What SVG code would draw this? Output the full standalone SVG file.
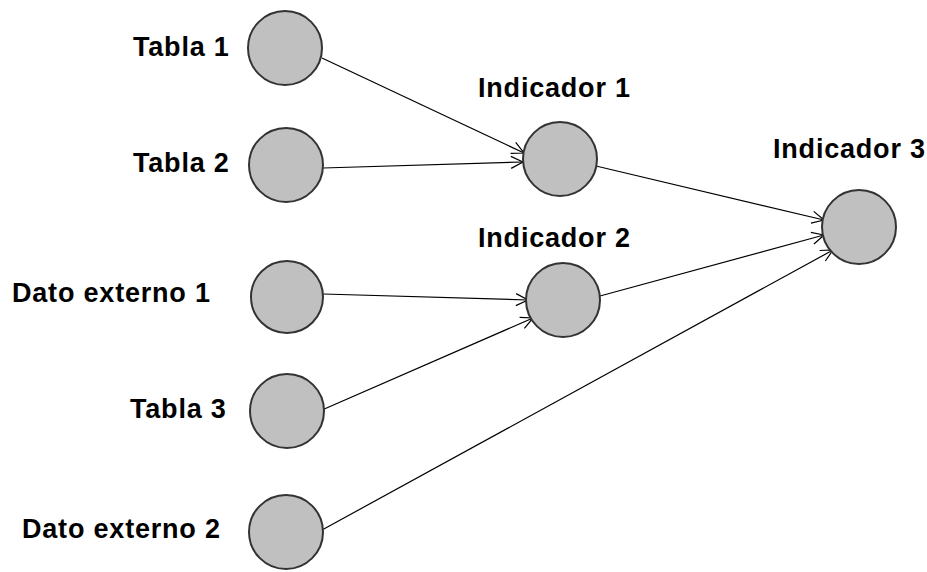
<svg xmlns="http://www.w3.org/2000/svg" width="927" height="572" viewBox="0 0 927 572">
<defs>
<style>
.node circle{fill:#c0c0c0;stroke:#333;stroke-width:2}
.lbl{font-family:"Liberation Sans",Arial,sans-serif;font-weight:bold;font-size:27px;fill:#000;letter-spacing:0.8px}
.edges line{stroke:#000;stroke-width:1.2;marker-end:url(#arr)}
</style>
<marker id="arr" markerUnits="userSpaceOnUse" markerWidth="16" markerHeight="16" viewBox="0 0 16 16" refX="14" refY="8" orient="auto">
<path d="M2,2 L14,8 L2,14" fill="none" stroke="#000" stroke-width="1.2"/>
</marker>
</defs>
<rect width="927" height="572" fill="#fff"/>
<g class="edges">
<line x1="322" y1="58" x2="524" y2="153"/>
<line x1="323" y1="168" x2="523" y2="162"/>
<line x1="596" y1="166" x2="824" y2="220"/>
<line x1="323" y1="294" x2="528" y2="300"/>
<line x1="322" y1="410" x2="533" y2="318"/>
<line x1="600" y1="296" x2="824" y2="235"/>
<line x1="322" y1="530" x2="833" y2="250"/>
</g>
<g id="tabla1" class="node"><circle cx="285" cy="48" r="37"/><text class="lbl" x="133" y="56">Tabla 1</text></g>
<g id="tabla2" class="node"><circle cx="286" cy="165" r="37"/><text class="lbl" x="133" y="172">Tabla 2</text></g>
<g id="dato1" class="node"><circle cx="287" cy="297" r="36"/><text class="lbl" x="12" y="302">Dato externo 1</text></g>
<g id="tabla3" class="node"><circle cx="287" cy="411" r="37"/><text class="lbl" x="130" y="418">Tabla 3</text></g>
<g id="dato2" class="node"><circle cx="286" cy="532" r="37"/><text class="lbl" x="22" y="538">Dato externo 2</text></g>
<g id="ind1" class="node"><circle cx="560" cy="159" r="37"/><text class="lbl" x="478" y="97">Indicador 1</text></g>
<g id="ind2" class="node"><circle cx="563" cy="300" r="37"/><text class="lbl" x="478" y="247">Indicador 2</text></g>
<g id="ind3" class="node"><circle cx="859" cy="227" r="37"/><text class="lbl" x="773" y="158">Indicador 3</text></g>
</svg>
